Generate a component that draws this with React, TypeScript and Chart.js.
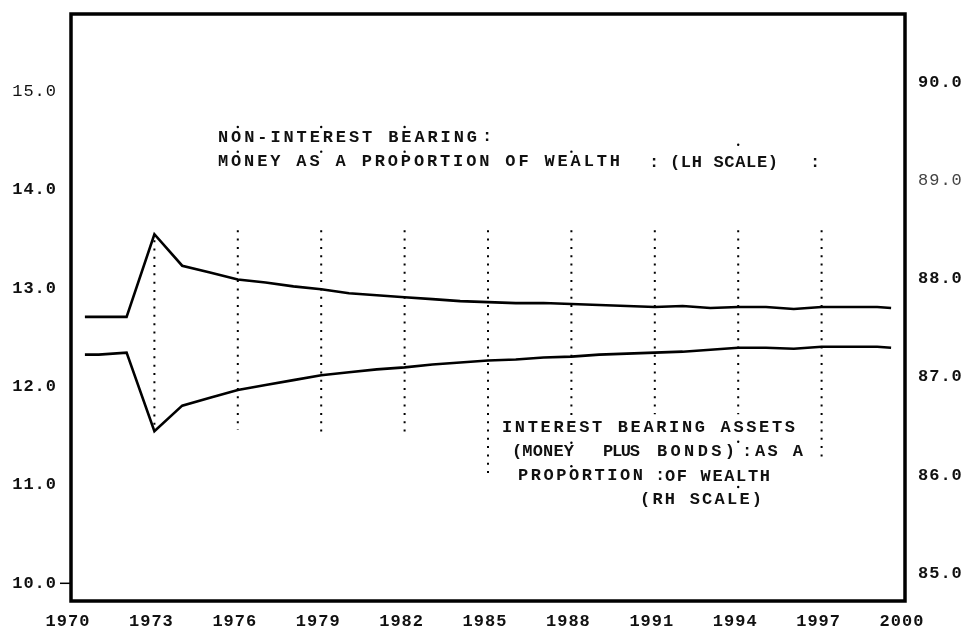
import { useEffect, useRef } from 'react';
import { Chart, registerables } from 'chart.js';

Chart.register(...registerables);

const FONT = '"Liberation Mono", "DejaVu Sans Mono", monospace';

// ---- data ----
const years = [1970.5, 1971, 1972, 1973, 1974, 1975, 1976, 1977, 1978, 1979, 1980, 1981, 1982, 1983, 1984, 1985, 1986, 1987, 1988, 1989, 1990, 1991, 1992, 1993, 1994, 1995, 1996, 1997, 1998, 1999, 1999.5];
const moneyShare = [12.71, 12.71, 12.71, 13.55, 13.23, 13.16, 13.09, 13.06, 13.02, 12.99, 12.95, 12.93, 12.91, 12.89, 12.87, 12.86, 12.85, 12.85, 12.84, 12.83, 12.82, 12.81, 12.82, 12.8, 12.81, 12.81, 12.79, 12.81, 12.81, 12.81, 12.8];
const interestShare = [87.23, 87.23, 87.25, 86.45, 86.71, 86.79, 86.87, 86.92, 86.97, 87.02, 87.05, 87.08, 87.1, 87.13, 87.15, 87.17, 87.18, 87.2, 87.21, 87.23, 87.24, 87.25, 87.26, 87.28, 87.3, 87.3, 87.29, 87.31, 87.31, 87.31, 87.3];

const xTickYears = [1970, 1973, 1976, 1979, 1982, 1985, 1988, 1991, 1994, 1997, 2000];
const leftTicks = [10, 11, 12, 13, 14, 15];
const rightTicks = [85, 86, 87, 88, 89, 90];

const dottedYears = [1973, 1976, 1979, 1982, 1985, 1988, 1991, 1994, 1997];
const dottedTop = [13.49, 13.59, 13.59, 13.59, 13.59, 13.59, 13.59, 13.59, 13.59];
const dottedBottom = [11.56, 11.56, 11.51, 11.51, 11.06, 11.69, 11.72, 11.72, 11.24];

const strayDotYears = [1976, 1976, 1979, 1979, 1982, 1982, 1988, 1994, 1988, 1988, 1994, 1994];
const strayDotValues = [14.64, 14.39, 14.64, 14.39, 14.64, 14.39, 14.39, 14.46, 11.43, 11.19, 11.44, 10.98];

// annotation text pieces (pixel layout)
const labels = [
  { text: 'NON-INTEREST BEARING', x0: 218, x1: 477, y: 138 },
  { text: ':', x0: 482, x1: 488, y: 137 },
  { text: 'MONEY AS A PROPORTION OF WEALTH', x0: 218, x1: 620, y: 162 },
  { text: ':', x0: 649, x1: 655, y: 163 },
  { text: '(LH SCALE)', x0: 670, x1: 778, y: 163 },
  { text: ':', x0: 810, x1: 816, y: 163 },
  { text: 'INTEREST BEARING ASSETS', x0: 502, x1: 795, y: 428 },
  { text: '(MONEY', x0: 512, x1: 574, y: 452 },
  { text: 'PLUS', x0: 603, x1: 640, y: 452 },
  { text: 'BONDS)', x0: 657, x1: 735, y: 452 },
  { text: ':', x0: 742, x1: 748, y: 452 },
  { text: 'AS A', x0: 755, x1: 803, y: 452 },
  { text: 'PROPORTION', x0: 518, x1: 643, y: 476 },
  { text: ':', x0: 655, x1: 661, y: 476 },
  { text: 'OF WEALTH', x0: 665, x1: 770, y: 477 },
  { text: '(RH SCALE)', x0: 640, x1: 762, y: 500 },
];

const zeroPad = (s: any) => {
  s.paddingTop = 0;
  s.paddingBottom = 0;
  s.paddingLeft = 0;
  s.paddingRight = 0;
};

const framePlugin = {
  id: 'frame',
  beforeDraw(chart: any) {
    chart.ctx.letterSpacing = '1px';
  },
  afterDatasetsDraw(chart: any) {
    const { ctx, chartArea: a } = chart;
    ctx.save();
    ctx.strokeStyle = '#000';
    ctx.lineWidth = 3.5;
    ctx.strokeRect(a.left, a.top, a.right - a.left, a.bottom - a.top);
    // small tick at the 10.0 label
    const y10 = chart.scales.y.getPixelForValue(10);
    ctx.lineWidth = 1.5;
    ctx.beginPath();
    ctx.moveTo(a.left - 11, y10);
    ctx.lineTo(a.left, y10);
    ctx.stroke();
    ctx.restore();
  },
  afterDraw(chart: any) {
    const ctx = chart.ctx;
    ctx.save();
    ctx.fillStyle = '#111';
    ctx.textBaseline = 'middle';
    ctx.textAlign = 'left';
    for (const l of labels) {
      ctx.font = `bold 17px ${FONT}`;
      ctx.letterSpacing = '0px';
      const w0 = ctx.measureText(l.text).width;
      const n = l.text.length;
      const ls = n > 1 ? (l.x1 - l.x0 - w0) / (n - 1) : 0;
      ctx.letterSpacing = `${ls}px`;
      ctx.fillText(l.text, l.x0, l.y);
    }
    ctx.letterSpacing = '0px';
    ctx.restore();
  },
};

export default function App() {
  const ref = useRef<HTMLCanvasElement | null>(null);
  useEffect(() => {
    document.body.style.margin = '0';
    if (!ref.current) return;
    const dotted = dottedYears.map((yr, i) => ({
      type: 'line' as const,
      data: [
        { x: yr, y: dottedTop[i] },
        { x: yr, y: dottedBottom[i] },
      ],
      yAxisID: 'y',
      borderColor: '#000',
      borderWidth: 2,
      borderDash: [2, 6.3],
      pointRadius: 0,
    }));
    const chart = new Chart(ref.current, {
      type: 'line',
      data: {
        datasets: [
          {
            label: 'Non-interest bearing money (LH)',
            data: years.map((x, i) => ({ x, y: moneyShare[i] })),
            yAxisID: 'y',
            borderColor: '#000',
            borderWidth: 2.6,
            pointRadius: 0,
            tension: 0,
          },
          {
            label: 'Interest bearing assets (RH)',
            data: years.map((x, i) => ({ x, y: interestShare[i] })),
            yAxisID: 'y1',
            borderColor: '#000',
            borderWidth: 2.6,
            pointRadius: 0,
            tension: 0,
          },
          ...dotted,
          {
            type: 'scatter' as const,
            data: strayDotYears.map((x, i) => ({ x, y: strayDotValues[i] })),
            yAxisID: 'y',
            backgroundColor: '#000',
            borderWidth: 0,
            pointRadius: 1.2,
          },
        ] as any,
      },
      options: {
        animation: false,
        responsive: false,
        devicePixelRatio: 1,
        layout: { autoPadding: false, padding: { top: 14, left: 0, right: 0, bottom: 0 } } as any,
        plugins: { legend: { display: false }, tooltip: { enabled: false } },
        scales: {
          x: {
            type: 'linear',
            min: 1970,
            max: 2000,
            afterBuildTicks: (s: any) => {
              s.ticks = xTickYears.map((v) => ({ value: v }));
            },
            afterFit: (s: any) => {
              s.height = 30;
              zeroPad(s);
            },
            grid: { display: false, drawTicks: false },
            border: { display: false },
            ticks: {
              color: '#111',
              padding: 11,
              labelOffset: -3,
              maxRotation: 0,
              autoSkip: false,
              font: { family: FONT, size: 17, weight: 'bold' },
              callback: (v: any) => String(v),
            },
          },
          y: {
            type: 'linear',
            position: 'left',
            min: 9.82,
            max: 15.79,
            afterBuildTicks: (s: any) => {
              s.ticks = leftTicks.map((v) => ({ value: v }));
            },
            afterFit: (s: any) => {
              s.width = 71;
              zeroPad(s);
            },
            grid: { display: false, drawTicks: false },
            border: { display: false },
            ticks: {
              color: '#111',
              padding: 14,
              font: (c: any) => ({ family: FONT, size: 17, weight: c.tick && c.tick.value === 15 ? 'normal' : 'bold' }),
              callback: (v: any) => Number(v).toFixed(1),
            },
          },
          y1: {
            type: 'linear',
            position: 'right',
            min: 84.72,
            max: 90.7,
            afterBuildTicks: (s: any) => {
              s.ticks = rightTicks.map((v) => ({ value: v }));
            },
            afterFit: (s: any) => {
              s.width = 69;
              zeroPad(s);
            },
            grid: { display: false, drawTicks: false },
            border: { display: false },
            ticks: {
              color: (c: any) => (c.tick && c.tick.value === 89 ? '#444' : '#111'),
              padding: 13,
              font: (c: any) => ({ family: FONT, size: 17, weight: c.tick && c.tick.value === 89 ? 'normal' : 'bold' }),
              callback: (v: any) => Number(v).toFixed(1),
            },
          },
        },
      } as any,
      plugins: [framePlugin],
    });
    return () => chart.destroy();
  }, []);
  return (
    <div style={{ width: 974, height: 631, background: '#fff' }}>
      <canvas ref={ref} width={974} height={631} style={{ display: 'block' }} />
    </div>
  );
}
